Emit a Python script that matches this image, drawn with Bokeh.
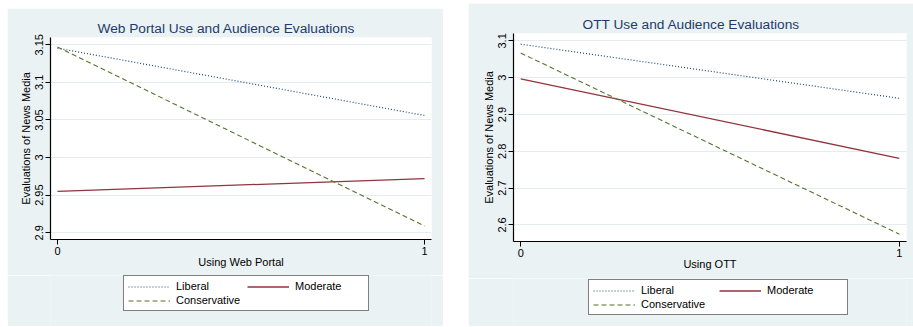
from bokeh.plotting import figure
from bokeh.models import Legend, LegendItem, FixedTicker, Range1d, Spacer, Title
from bokeh.layouts import row, column
from bokeh.embed import file_html
from bokeh.resources import INLINE

# ---- data ----
x_vals = [0, 1]
x_ticks = [0, 1]
x_tick_labels = ["0", "1"]

web_liberal = [3.1455, 3.056]
web_moderate = [2.955, 2.972]
web_conservative = [3.147, 2.909]
web_yticks = [2.9, 2.95, 3.0, 3.05, 3.1, 3.15]
web_ytick_labels = ["2.9", "2.95", "3", "3.05", "3.1", "3.15"]

ott_liberal = [3.091, 2.944]
ott_moderate = [2.997, 2.781]
ott_conservative = [3.067, 2.575]
ott_yticks = [2.6, 2.7, 2.8, 2.9, 3.0, 3.1]
ott_ytick_labels = ["2.6", "2.7", "2.8", "2.9", "3", "3.1"]

series_names = ["Liberal", "Moderate", "Conservative"]

FONT = "Liberation Sans"
BG = "#EAF2F3"
C_LIB = "#1A476F"
C_MOD = "#90353B"
C_CON = "#55752F"
STYLES = [dict(line_color=C_LIB, line_width=1.2, line_dash="1 2"),
          dict(line_color=C_MOD, line_width=1.3),
          dict(line_color=C_CON, line_width=1.1, line_dash="5 3")]


def make_panel(title, xlabel, series, yticks, ylabels, yr, w, h,
               bl, br, bt, bb, title_offset):
    p = figure(width=w, height=h, output_backend="svg", toolbar_location=None,
               x_range=Range1d(-0.019, 1.019), y_range=Range1d(*yr),
               min_border_left=bl, min_border_right=br, min_border_top=bt,
               min_border_bottom=bb)
    p.background_fill_color = "white"
    p.border_fill_color = BG
    p.outline_line_color = None

    p.add_layout(Title(text=title, align="left", offset=title_offset,
                       text_font=FONT, text_font_size="13.7px",
                       text_font_style="normal", text_color="#1E3A6E",
                       standoff=4), "above")

    for ys, st in zip(series, STYLES):
        p.line(x_vals, ys, **st)

    for ax in (p.xaxis[0], p.yaxis[0]):
        ax.axis_line_color = "black"
        ax.axis_line_width = 1.2
        ax.major_tick_line_color = "black"
        ax.major_tick_out = 5
        ax.major_tick_in = 0
        ax.minor_tick_line_color = None
        ax.major_label_text_font = FONT
        ax.major_label_text_font_size = "11px"
        ax.major_label_text_color = "black"
        ax.axis_label_text_font = FONT
        ax.axis_label_text_font_size = "11px"
        ax.axis_label_text_font_style = "normal"
        ax.axis_label_text_color = "black"
        ax.major_label_standoff = 2
        ax.axis_label_standoff = 1

    p.xaxis[0].ticker = FixedTicker(ticks=x_ticks)
    p.xaxis[0].major_label_overrides = {t: s for t, s in zip(x_ticks, x_tick_labels)}
    p.xaxis[0].axis_label = xlabel
    p.xaxis[0].axis_label_standoff = -2
    p.yaxis[0].ticker = FixedTicker(ticks=yticks)
    p.yaxis[0].major_label_overrides = {t: s for t, s in zip(yticks, ylabels)}
    p.yaxis[0].major_label_orientation = "vertical"
    p.yaxis[0].axis_label = "Evaluations of News Media"

    p.xgrid.grid_line_color = None
    p.ygrid.grid_line_color = "#E3EDEF"
    p.ygrid.grid_line_width = 1.2
    return p


def make_legend_fig(w, h, loc, series, label_w):
    # legend-only strip; its lines use the same data but lie outside its view
    lf = figure(width=w, height=h, output_backend="svg", toolbar_location=None,
                x_axis_location=None, y_axis_location=None,
                x_range=Range1d(10, 11), y_range=Range1d(10, 11),
                min_border_left=0, min_border_right=0, min_border_top=0,
                min_border_bottom=0)
    lf.background_fill_color = BG
    lf.border_fill_color = BG
    lf.outline_line_color = None
    lf.grid.grid_line_color = None
    rs = [lf.line(x_vals, ys, **st) for ys, st in zip(series, STYLES)]
    items = [LegendItem(label=n, renderers=[r]) for n, r in zip(series_names, rs)]
    # column-major fill: Liberal / Conservative in column 1, Moderate in column 2
    legend = Legend(items=[items[0], items[2], items[1]], ncols=2, location=loc)
    legend.border_line_color = "black"
    legend.border_line_width = 1
    legend.background_fill_color = "white"
    legend.background_fill_alpha = 1
    legend.label_text_font = FONT
    legend.label_text_font_size = "11px"
    legend.label_text_color = "black"
    legend.glyph_width = 42
    legend.glyph_height = 11
    legend.label_height = 11
    legend.label_width = label_w
    legend.label_standoff = 6
    legend.padding = 4
    legend.spacing = 2
    legend.margin = 0
    lf.add_layout(legend, "center")
    return lf


web_series = [web_liberal, web_moderate, web_conservative]
ott_series = [ott_liberal, ott_moderate, ott_conservative]

p1 = make_panel("Web Portal Use and Audience Evaluations", "Using Web Portal",
                web_series, web_yticks, web_ytick_labels, (2.891, 3.1597),
                436, 267, 43, 12, 29, 36, 47)
l1 = make_legend_fig(436, 51, (73, 15), web_series, 69)
p2 = make_panel("OTT Use and Audience Evaluations", "Using OTT",
                ott_series, ott_yticks, ott_ytick_labels, (2.555, 3.12),
                445, 275, 45, 7, 30, 37, 69)
l2 = make_legend_fig(445, 48, (75, 11), ott_series, 76)

layout = row(Spacer(width=7),
             column(Spacer(height=8), p1, l1),
             Spacer(width=25),
             column(Spacer(height=3), p2, l2))

open("out.html", "w").write(file_html(layout, INLINE))
